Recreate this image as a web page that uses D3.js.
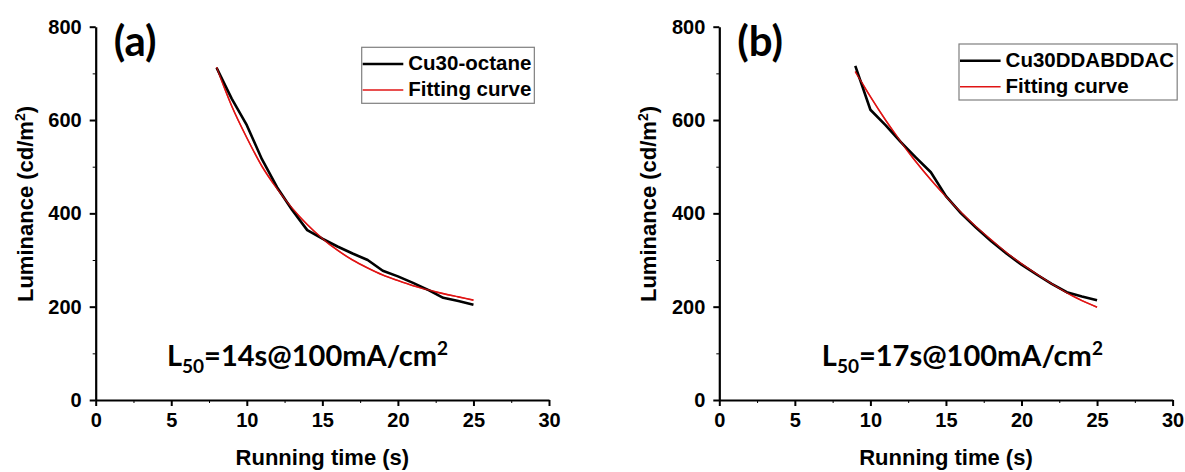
<!DOCTYPE html>
<html>
<head>
<meta charset="utf-8">
<script src="https://cdn.jsdelivr.net/npm/d3@7"></script>
<style>
html, body { margin: 0; padding: 0; background: #fff; overflow: hidden; }
svg { display: block; }
text { font-family: "Liberation Sans", Arial, sans-serif; font-weight: bold; fill: #000; }
</style>
</head>
<body>
<div id="chart"></div>
<script>
// values
const timeA = [8, 9, 10, 11, 12, 13, 14, 15, 16, 17, 18, 19, 20, 21, 22, 23, 24, 25];
const lumA  = [712, 646, 589, 516, 456, 407, 364, 346, 329, 314, 300, 277, 265, 251, 236, 219, 212, 204];
const fitA  = [713, 630, 562, 501, 453, 411, 376, 346, 321, 300, 283, 268, 256, 245, 236, 228, 221, 214];

const timeB = [9, 10, 11, 12, 13, 14, 15, 16, 17, 18, 19, 20, 21, 22, 23, 24, 25];
const lumB  = [716, 622, 589, 553, 520, 488, 437, 400, 369, 340, 314, 290, 269, 249, 231, 222, 214];
const fitB  = [704, 650, 600, 554, 511, 472, 436, 402, 371, 343, 316, 292, 270, 249, 230, 213, 199];

const xTicks = [0, 5, 10, 15, 20, 25, 30];
const xMinor = [2.5, 7.5, 12.5, 17.5, 22.5, 27.5];
const yTicks = [0, 200, 400, 600, 800];
const yMinor = [100, 300, 500, 700];

const seriesNames = ["Cu30-octane", "Cu30DDABDDAC"];
const fitName = "Fitting curve";
const panelNames = ["(a)", "(b)"];
const l50Times = ["14s", "17s"];

const width = 1185, height = 472;
const innerWidth = 453.3;
const yTop = 26.7, yBottom = 400;

const svg = d3.select('#chart')
    .append('svg')
    .attr('width', width)
    .attr('height', height);

const panels = [
    {left: 95.7, time: timeA, lum: lumA, fit: fitA, name: seriesNames[0], label: panelNames[0], l50: l50Times[0],
     legX: 266, legY: 47.3, l50X: 71.3},
    {left: 719.3, time: timeB, lum: lumB, fit: fitB, name: seriesNames[1], label: panelNames[1], l50: l50Times[1],
     legX: 239.7, legY: 44, l50X: 102.5}
];

panels.forEach(drawPanel);

function drawPanel(p)
{
    const g = svg.append('g')
        .attr('transform', `translate(${p.left},0)`);

    const xScale = d3.scaleLinear().domain([0, 30]).range([0, innerWidth]);
    const yScale = d3.scaleLinear().domain([0, 800]).range([yBottom, yTop]);

    // minor ticks first
    g.append('g')
        .attr('transform', `translate(0,${yBottom})`)
        .call(d3.axisBottom(xScale).tickValues(xMinor).tickSize(3).tickFormat(''))
        .call(a => a.select('.domain').remove());
    g.append('g')
        .call(d3.axisLeft(yScale).tickValues(yMinor).tickSize(3).tickFormat(''))
        .call(a => a.select('.domain').remove());

    const xAxis = g.append('g')
        .attr('transform', `translate(0,${yBottom})`)
        .call(d3.axisBottom(xScale).tickValues(xTicks).tickSize(6).tickSizeOuter(0).tickPadding(7));
    const yAxis = g.append('g')
        .call(d3.axisLeft(yScale).tickValues(yTicks).tickSize(6).tickSizeOuter(0).tickPadding(8));

    [xAxis, yAxis].forEach(a => {
        a.attr('font-size', 20).attr('font-family', null);
        a.select('.domain').attr('stroke-width', 2.2);
        a.selectAll('.tick line').attr('stroke-width', 2);
        a.selectAll('.tick text')
            .style('font-weight', 'bold')
            .style('font-size', '20px');
    });
    g.selectAll('.tick line').attr('stroke', '#000');

    const line = d3.line()
        .x(d => xScale(d[0]))
        .y(d => yScale(d[1]));

    g.append('path')
        .attr('d', line.curve(d3.curveMonotoneX)(d3.zip(p.time, p.fit)))
        .attr('fill', 'none')
        .attr('stroke', '#e01414')
        .attr('stroke-width', 1.6);

    g.append('path')
        .attr('d', line.curve(d3.curveLinear)(d3.zip(p.time, p.lum)))
        .attr('fill', 'none')
        .attr('stroke', '#000')
        .attr('stroke-width', 2.6)
        .attr('stroke-linejoin', 'round');

    // red fit drawn again on top, thin, as in the original
    g.append('path')
        .attr('d', line.curve(d3.curveMonotoneX)(d3.zip(p.time, p.fit)))
        .attr('fill', 'none')
        .attr('stroke', '#e01414')
        .attr('stroke-width', 1.2)
        .attr('opacity', 0.8);

    // axis titles
    g.append('text')
        .attr('x', xScale(15))
        .attr('y', 465)
        .attr('text-anchor', 'middle')
        .style('font-size', '22px')
        .text('Running time (s)');

    const yt = g.append('text')
        .attr('transform', `translate(-63,204) rotate(-90)`)
        .attr('text-anchor', 'middle')
        .style('font-size', '22px');
    yt.append('tspan').text('Luminance (cd/m');
    yt.append('tspan').attr('dy', -8).style('font-size', '14px').text('2');
    yt.append('tspan').attr('dy', 8).text(')');

    // panel letter
    g.append('text')
        .attr('x', 18)
        .attr('y', 56)
        .style('font-family', 'Lato, "Open Sans", sans-serif')
        .style('font-size', '42px')
        .text(p.label);

    // L50 annotation
    const lt = g.append('text')
        .attr('x', p.l50X)
        .attr('y', 366)
        .style('font-family', 'Lato, "Open Sans", sans-serif')
        .style('font-size', '29px');
    lt.append('tspan').text('L');
    lt.append('tspan').attr('dy', 7).style('font-size', '19px').text('50');
    lt.append('tspan').attr('dy', -7).text('=' + p.l50 + '@100mA/cm');
    lt.append('tspan').attr('dy', -11).style('font-size', '19px').text('2');

    // legend
    const leg = g.append('g').attr('transform', `translate(${p.legX},${p.legY})`);
    const box = leg.append('rect')
        .attr('fill', '#fff')
        .attr('stroke', '#7f7f7f')
        .attr('stroke-width', 1.2);
    const rows = [
        {name: p.name, color: '#000', w: 2.6},
        {name: fitName, color: '#e01414', w: 1.6}
    ];
    let maxW = 0;
    rows.forEach((r, i) => {
        const yy = 16.7 + i * 26;
        leg.append('line')
            .attr('x1', 1).attr('x2', 41.6)
            .attr('y1', yy).attr('y2', yy)
            .attr('stroke', r.color)
            .attr('stroke-width', r.w);
        const t = leg.append('text')
            .attr('x', 46.6)
            .attr('y', yy + 6.5)
            .style('font-size', '20.5px')
            .text(r.name);
        maxW = Math.max(maxW, t.node().getComputedTextLength());
    });
    box.attr('x', 0).attr('y', 0)
        .attr('width', 46.6 + maxW + 3)
        .attr('height', 56);
}
</script>
</body>
</html>
